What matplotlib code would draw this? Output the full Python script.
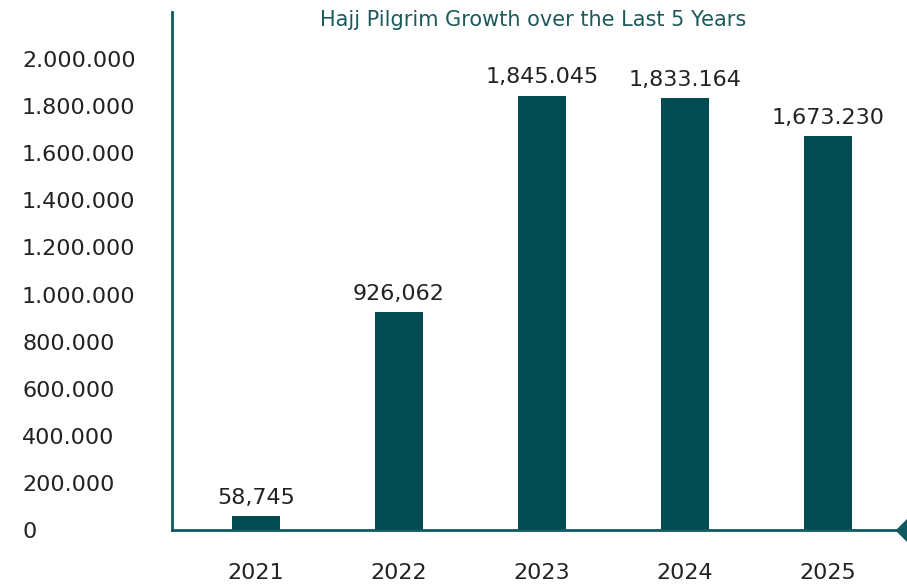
import matplotlib
matplotlib.use("Agg")
import matplotlib.pyplot as plt

years = ["2021", "2022", "2023", "2024", "2025"]
pilgrims = [58745, 926062, 1845045, 1833164, 1673230]
value_labels = ["58,745", "926,062", "1,845.045", "1,833.164", "1,673.230"]
y_ticks = [0, 200000, 400000, 600000, 800000, 1000000, 1200000,
           1400000, 1600000, 1800000, 2000000]
y_tick_labels = ["0", "200.000", "400.000", "600.000", "800.000", "1.000.000",
                 "1.200.000", "1.400.000", "1.600.000", "1.800.000", "2.000.000"]
title = "Hajj Pilgrim Growth over the Last 5 Years"

bar_color = "#034b52"
axis_color = "#0f5a60"
text_color = "#222222"

plt.rcParams["font.family"] = ["DejaVu Sans"]

fig = plt.figure(figsize=(9.07, 5.85), dpi=100)
ax = fig.add_axes([172 / 907, 55 / 585, (907 - 172) / 907, (530 - 12) / 585])

x = list(range(len(years)))
ax.bar(x, pilgrims, width=0.336, color=bar_color, zorder=2)

ax.set_xlim(-0.587, 4.552)
ax.set_ylim(0, 2200000)

for xi, v, lab in zip(x, pilgrims, value_labels):
    ax.annotate(lab, (xi, v), xytext=(0, 6), textcoords="offset points",
                ha="center", va="bottom", fontsize=16, color=text_color)

ax.set_xticks(x)
ax.set_xticklabels(years, fontsize=16, color=text_color)
ax.tick_params(axis="x", length=0, pad=24)

ax.set_yticks(y_ticks)
ax.set_yticklabels(y_tick_labels, fontsize=16, color=text_color)
ax.tick_params(axis="y", length=0, pad=108)
for t in ax.get_yticklabels():
    t.set_horizontalalignment("left")

for side in ("top", "right"):
    ax.spines[side].set_visible(False)
for side in ("left", "bottom"):
    ax.spines[side].set_color(axis_color)
    ax.spines[side].set_linewidth(2)

ax.plot([ax.get_xlim()[1]], [0], marker="D", markersize=11, color=axis_color,
        clip_on=False, zorder=3)

ax.text(0.491, 1.003, title, transform=ax.transAxes, fontsize=15,
        color="#1c5a5c", ha="center", va="top")

fig.savefig("out.png", dpi=100)
